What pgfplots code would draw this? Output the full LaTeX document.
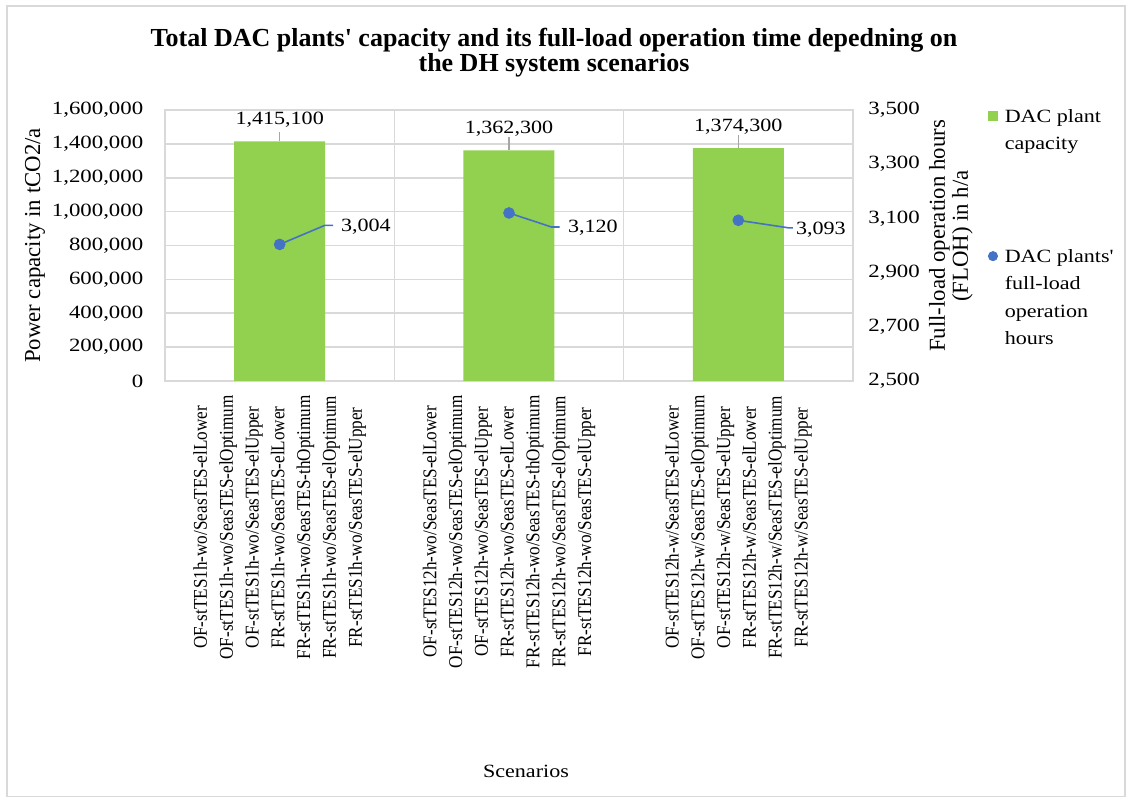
\documentclass[border=0pt]{standalone}
\usepackage{fontspec}
\setmainfont{Liberation Serif}
\newfontfamily\widefont{Liberation Serif}[FakeStretch=1.18]
\newfontfamily\tickwidefont{Liberation Serif}[FakeStretch=1.22]
\newfontfamily\narrowfont{Liberation Serif}[FakeStretch=0.88]
\usepackage{pgfplots}
\pgfplotsset{compat=1.18}
\usepackage{pgfplotstable}

\definecolor{dacgreen}{HTML}{92D050}
\definecolor{dacblue}{HTML}{4472C4}
\definecolor{gridgray}{HTML}{D9D9D9}
\definecolor{leadergray}{HTML}{A6A6A6}

\newcommand\tickfont{\tickwidefont\fontsize{9.35}{11.2}\selectfont}
\newcommand\datafont{\widefont\fontsize{9.35}{11.2}\selectfont}
\newcommand\legfont{\widefont\fontsize{9.35}{13.75}\selectfont}
\newcommand\xlabfont{\narrowfont\fontsize{9.75}{12.9}\selectfont}
\newcommand\ytitlefont{\fontsize{11.4}{11.5}\selectfont}
\newcommand\titlefont{\bfseries\fontsize{13}{12.5}\selectfont}

% total capacity per scenario group, leader length, label text
\pgfplotstableread{
x cap lead label
0 1415100 53000 1,415,100
1 1362300 77000 1,362,300
2 1374300 77000 1,374,300
}\capacity

% full-load operation hours, label offsets (pt)
\pgfplotstableread{
x floh dx dy label
0 3004 30.5 9.0 3,004
1 3120 29.3 -7.5 3,120
2 3093 28.7 -4.5 3,093
}\floh

\begin{document}
\begin{tikzpicture}
\path[use as bounding box] (0pt,0pt) rectangle (563pt,399pt);
\draw[gridgray, line width=0.8pt] (3.5pt,0.8pt) rectangle (562.5pt,396pt);

\begin{axis}[
  at={(82.5pt,208.5pt)}, anchor=south west,
  width=344pt, height=135.5pt, scale only axis,
  xmin=-0.5, xmax=2.5, ymin=0, ymax=1600000,
  xtick={0,1,2},
  xticklabels={
    {OF-stTES1h-wo/SeasTES-elLower\\OF-stTES1h-wo/SeasTES-elOptimum\\OF-stTES1h-wo/SeasTES-elUpper\\FR-stTES1h-wo/SeasTES-elLower\\FR-stTES1h-wo/SeasTES-thOptimum\\FR-stTES1h-wo/SeasTES-elOptimum\\FR-stTES1h-wo/SeasTES-elUpper},
    {OF-stTES12h-wo/SeasTES-elLower\\OF-stTES12h-wo/SeasTES-elOptimum\\OF-stTES12h-wo/SeasTES-elUpper\\FR-stTES12h-wo/SeasTES-elLower\\FR-stTES12h-wo/SeasTES-thOptimum\\FR-stTES12h-wo/SeasTES-elOptimum\\FR-stTES12h-wo/SeasTES-elUpper},
    {OF-stTES12h-w/SeasTES-elLower\\OF-stTES12h-w/SeasTES-elOptimum\\OF-stTES12h-w/SeasTES-elUpper\\FR-stTES12h-w/SeasTES-elLower\\FR-stTES12h-w/SeasTES-elOptimum\\FR-stTES12h-w/SeasTES-elUpper}
  },
  minor xtick={0.5,1.5},
  xminorgrids=true,
  ytick={0,200000,...,1600000},
  ymajorgrids=true,
  major grid style={gridgray, line width=0.8pt},
  minor grid style={gridgray, line width=0.8pt},
  axis line style={gridgray, line width=0.8pt},
  major tick length=0pt, minor tick length=0pt,
  scaled y ticks=false,
  yticklabel style={font=\tickfont, inner sep=0pt,
    /pgf/number format/.cd, fixed, 1000 sep={,}, assume math mode=true},
  yticklabel shift=10.7pt,
  xticklabel style={font=\xlabfont, rotate=90, anchor=east, align=center, inner sep=0pt},
  xticklabel shift=7pt,
  ylabel={Power capacity in tCO2/a},
  every axis y label/.style={font=\ytitlefont, at={(axis description cs:-0.189,0.5)}, rotate=90, anchor=center},
  xlabel={Scenarios},
  every axis x label/.style={font=\datafont, at={(axis description cs:0.5247,-1.439)}, anchor=center},
  clip=false,
]
\addplot[ybar, bar width=45.5pt, fill=dacgreen, draw=none,
  point meta=explicit symbolic,
  nodes near coords,
  nodes near coords style={font=\datafont, text=black, anchor=center, yshift=11pt},
  error bars/.cd, y dir=plus, y explicit, error mark=none,
  error bar style={leadergray, line width=0.6pt}]
  table[x=x, y=cap, y error=lead, meta=label] {\capacity};
\end{axis}

\begin{axis}[
  at={(82.5pt,208.5pt)}, anchor=south west,
  width=344pt, height=135.5pt, scale only axis,
  xmin=-0.5, xmax=2.5, ymin=2500, ymax=3500,
  axis y line*=right, axis x line=none,
  axis line style={draw=none},
  ytick={2500,2700,...,3500},
  major tick length=0pt,
  scaled y ticks=false,
  yticklabel style={font=\tickfont, inner sep=0pt, anchor=west,
    /pgf/number format/.cd, fixed, 1000 sep={,}, assume math mode=true},
  yticklabel shift=7.5pt,
  ylabel={Full-load operation hours\\(FLOH) in h/a},
  every axis y label/.style={font=\ytitlefont, align=center, at={(axis description cs:1.1424,0.535)}, rotate=90, anchor=center},
  legend style={at={(axis description cs:1.1962,1.0177)}, anchor=north west,
    draw=none, fill=none, inner sep=0pt, outer sep=0pt,
    row sep=44.35pt, column sep=1.4pt,
    cells={anchor=base west, align=left, inner sep=0pt, font=\legfont}},
  clip=false,
]
\addlegendimage{legend image code/.code={\fill[dacgreen] (0.1pt,14.75pt) rectangle (4.3pt,18.95pt);}}
\addlegendentry{DAC plant\\capacity}

\draw[dacblue, line width=0.8pt] (axis cs:0,3004) -- ++(22.5pt,9.5pt) -- ++(4.2pt,0pt);
\draw[dacblue, line width=0.8pt] (axis cs:1,3120) -- ++(21.2pt,-7pt) -- ++(4.1pt,0pt);
\draw[dacblue, line width=0.8pt] (axis cs:2,3093) -- ++(25.3pt,-3.8pt) -- ++(2pt,0pt);

\addplot[only marks, mark=*, mark size=2.7pt, dacblue,
  mark options={fill=dacblue, draw=dacblue},
  legend image code/.code={\fill[dacblue] (2.2pt,44.35pt) circle (2.3pt);},
  point meta=explicit symbolic,
  visualization depends on={\thisrow{dx}\as\dx},
  visualization depends on={\thisrow{dy}\as\dy},
  nodes near coords,
  nodes near coords style={font=\datafont, text=black, anchor=west, inner sep=0pt,
    xshift=\dx pt, yshift=\dy pt}]
  table[x=x, y=floh, meta=label] {\floh};
\addlegendentry{DAC plants'\\full-load\\operation\\hours}
\end{axis}

\node[font=\titlefont, align=center, anchor=base] at (277pt,363pt)
  {Total DAC plants\textquotesingle{} capacity and its full-load operation time depedning on\\the DH system scenarios};
\end{tikzpicture}
\end{document}
